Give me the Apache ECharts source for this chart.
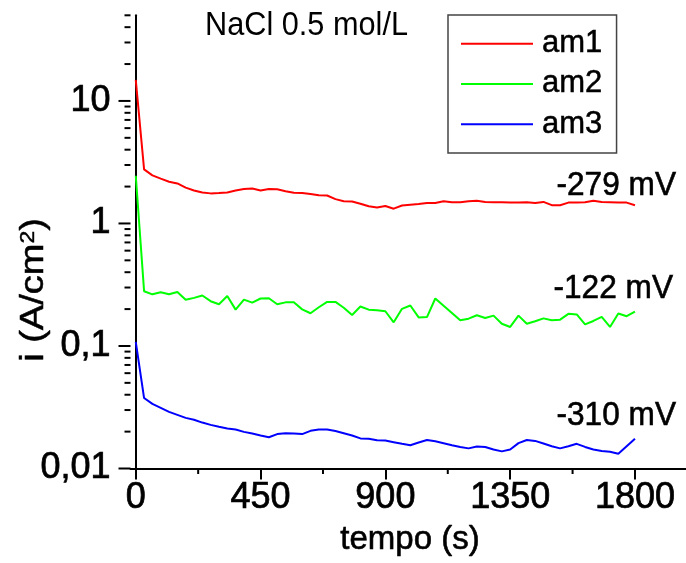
<!DOCTYPE html>
<html><head><meta charset="utf-8">
<script src="https://cdn.jsdelivr.net/npm/echarts@6/dist/echarts.min.js"></script>
<style>html,body{margin:0;padding:0;background:#fff}#c{width:686px;height:563px}</style>
</head><body><div id="c"></div>
<script>
const time = [0,30,60,90,120,150,180,210,240,270,300,330,360,390,420,450,480,510,540,570,600,630,660,690,720,750,780,810,840,870,900,930,960,990,1020,1050,1080,1110,1140,1170,1200,1230,1260,1290,1320,1350,1380,1410,1440,1470,1500,1530,1560,1590,1620,1650,1680,1710,1740,1770,1800];
const am1 = [14.85,2.76,2.47,2.32,2.19,2.12,1.96,1.86,1.79,1.76,1.77,1.79,1.86,1.91,1.93,1.86,1.91,1.90,1.83,1.78,1.77,1.74,1.70,1.69,1.58,1.52,1.51,1.45,1.38,1.35,1.39,1.32,1.40,1.42,1.44,1.47,1.47,1.52,1.49,1.49,1.52,1.53,1.50,1.49,1.49,1.48,1.48,1.49,1.47,1.50,1.41,1.41,1.48,1.48,1.49,1.53,1.50,1.49,1.48,1.48,1.41];
const am2 = [2.45,0.280,0.264,0.274,0.264,0.276,0.238,0.247,0.258,0.232,0.219,0.256,0.198,0.239,0.226,0.244,0.245,0.219,0.227,0.227,0.199,0.185,0.207,0.229,0.229,0.205,0.179,0.210,0.198,0.196,0.192,0.156,0.201,0.214,0.171,0.172,0.244,0.213,0.186,0.162,0.167,0.178,0.169,0.177,0.152,0.143,0.177,0.152,0.159,0.168,0.162,0.164,0.183,0.181,0.150,0.160,0.173,0.143,0.184,0.175,0.191];
const am3 = [0.108,0.0376,0.0337,0.0313,0.0290,0.0274,0.0259,0.0250,0.0237,0.0227,0.0219,0.0212,0.0208,0.0199,0.0193,0.0186,0.0180,0.0191,0.0194,0.0193,0.0191,0.0203,0.0208,0.0208,0.0202,0.0194,0.0186,0.0176,0.0175,0.0170,0.0169,0.0164,0.0159,0.0155,0.0163,0.0171,0.0167,0.0161,0.0155,0.0150,0.0146,0.0151,0.0150,0.0143,0.0138,0.0143,0.0161,0.0171,0.0168,0.0160,0.0152,0.0146,0.0152,0.0159,0.0150,0.0143,0.0139,0.0137,0.0132,0.0152,0.0175];
const seriesNames = ['am1','am2','am3'];
const potentials = ['-279 mV','-122 mV','-310 mV'];
const titleText = 'NaCl 0.5 mol/L';
const xName = 'tempo (s)';
const xTickValues = [0,450,900,1350,1800];
const xMinorTicks = [225,675,1125,1575];
const yMajorTicks = [0.01,0.1,1,10];
const yTickLabels = {'-2':'0,01','-1':'0,1','0':'1','1':'10'};
const yMinorTicks = [0.02,0.03,0.04,0.05,0.06,0.07,0.08,0.09,0.2,0.3,0.4,0.5,0.6,0.7,0.8,0.9,2,3,4,5,6,7,8,9,20,30,40,50];

const X_MIN = -19, X_MAX = 1984, Y_MIN = 0.01, Y_MAX = 50;
const colors = ['#ff0000','#00ff00','#0000ff'];
const sans = "'Liberation Sans',Arial,sans-serif";
const heavy = {textBorderColor:'#000', textBorderWidth:0.7};

function pair(xs, ys){ return xs.map((x,i)=>[x, ys[i]]); }

function tickSeries(data, dir, len){
  return {
    type:'custom', silent:true, clip:false, z:5,
    data: data,
    renderItem: function(params, api){
      const p = api.coord([api.value(0), api.value(1)]);
      const shape = dir==='y' ? {x1:p[0]-len, y1:p[1], x2:p[0], y2:p[1]} : {x1:p[0], y1:p[1], x2:p[0], y2:p[1]+len};
      return {type:'line', shape:shape, style:{stroke:'#000', lineWidth:2}};
    }
  };
}

const chart = echarts.init(document.getElementById('c'));
const lineSeries = [am1, am2, am3].map((vals, i) => ({
  name: seriesNames[i], type:'line', data: pair(time, vals), symbol:'none', showSymbol:false,
  lineStyle:{color:colors[i], width:2}, itemStyle:{color:colors[i]}, z:3
}));

chart.setOption({
  animation:false,
  backgroundColor:'#fff',
  grid:{left:130.5, right:0, top:15.3, bottom:94.5},
  xAxis:{
    type:'value', min:X_MIN, max:X_MAX,
    axisLine:{onZero:false, lineStyle:{color:'#000', width:2}},
    axisTick:{show:true, customValues:xTickValues, length:11, lineStyle:{color:'#000', width:2}},
    axisLabel:Object.assign({customValues:xTickValues, margin:12, color:'#000', fontFamily:sans, fontSize:36,
      formatter:function(v){ return String(Math.round(v)); }}, heavy),
    splitLine:{show:false}
  },
  yAxis:{
    type:'log', logBase:10, min:Y_MIN, max:Y_MAX,
    axisLine:{show:true, lineStyle:{color:'#000', width:2}},
    axisTick:{show:false},
    axisLabel:Object.assign({margin:20, color:'#000', fontFamily:sans, fontSize:36,
      formatter:function(v){ const l=Math.log10(v); const e=Math.round(l); return Math.abs(l-e)<1e-6 && yTickLabels[e]!==undefined ? yTickLabels[e] : ''; }}, heavy),
    splitLine:{show:false}
  },
  legend:{
    data:seriesNames, orient:'vertical', left:448, top:15,
    icon:'rect', itemWidth:72, itemHeight:2,
    padding:[13,14,13,13], itemGap:8.7,
    borderColor:'#444', borderWidth:1.5,
    textStyle:{fontFamily:sans, fontSize:31, color:'#000', lineHeight:30, padding:[0,0,0,4], textBorderColor:'#000', textBorderWidth:0.5}
  },
  graphic:[
    {type:'text', x:205, y:25.5, scaleX:0.93, style:{text:titleText, font:'33px '+sans, fill:'#000', align:'left', verticalAlign:'middle'}},
    {type:'text', x:676, y:185.3, scaleX:0.93, style:{text:potentials[0], font:'34px '+sans, fill:'#000', stroke:'#000', lineWidth:0.6, align:'right', verticalAlign:'middle'}},
    {type:'text', x:673, y:288.3, scaleX:0.93, style:{text:potentials[1], font:'34px '+sans, fill:'#000', stroke:'#000', lineWidth:0.6, align:'right', verticalAlign:'middle'}},
    {type:'text', x:676, y:415.8, scaleX:0.93, style:{text:potentials[2], font:'34px '+sans, fill:'#000', stroke:'#000', lineWidth:0.6, align:'right', verticalAlign:'middle'}},
    {type:'text', x:410, y:540, style:{text:xName, font:'33px '+sans, fill:'#000', stroke:'#000', lineWidth:0.6, align:'center', verticalAlign:'middle'}},
    {type:'text', x:34.5, y:290, rotation:Math.PI/2, scaleY:0.85,
      style:{text:'{a|i (A/cm}{b|2}{a|)}', align:'center', verticalAlign:'middle',
        rich:{a:{font:'38px '+sans, fill:'#000', stroke:'#000', lineWidth:0.6, verticalAlign:'bottom'}, b:{font:'23px '+sans, fill:'#000', stroke:'#000', lineWidth:0.5, verticalAlign:'top'}}}}
  ],
  series: lineSeries.concat([
    tickSeries(yMajorTicks.map(v=>[X_MIN, v]), 'y', 12),
    tickSeries(yMinorTicks.map(v=>[X_MIN, v]), 'y', 6),
    tickSeries(xMinorTicks.map(v=>[v, Y_MIN]), 'x', 5.5)
  ])
});
</script>
</body></html>
